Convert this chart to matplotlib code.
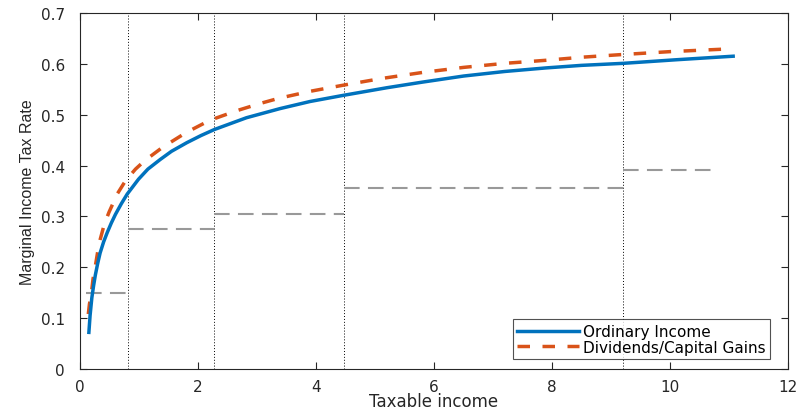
import matplotlib
matplotlib.use("Agg")
import matplotlib.pyplot as plt

# values
ordinary_x = [0.15, 0.17, 0.20, 0.23, 0.26, 0.30, 0.34, 0.40, 0.46, 0.53, 0.60, 0.70, 0.80,
              0.99, 1.15, 1.36, 1.55, 1.81, 2.05, 2.28, 2.82, 3.39, 3.90, 4.46, 5.20, 5.80,
              6.50, 7.20, 7.90, 8.50, 9.21, 10.10, 11.07]
ordinary_y = [0.072, 0.105, 0.140, 0.164, 0.185, 0.208, 0.228, 0.250, 0.268, 0.287, 0.304, 0.325, 0.344,
              0.373, 0.393, 0.412, 0.428, 0.445, 0.459, 0.471, 0.494, 0.512, 0.526, 0.538, 0.553, 0.564,
              0.576, 0.585, 0.592, 0.597, 0.601, 0.608, 0.615]

divcap_x = [0.14, 0.16, 0.19, 0.22, 0.26, 0.30, 0.34, 0.41, 0.49, 0.63, 0.77, 0.94, 1.10,
            1.40, 1.80, 2.20, 2.66, 3.05, 3.36, 3.90, 4.46, 5.10, 5.80, 6.50, 7.20, 7.90,
            8.50, 9.15, 10.00, 10.93]
divcap_y = [0.108, 0.128, 0.147, 0.177, 0.203, 0.231, 0.254, 0.284, 0.308, 0.344, 0.370, 0.393, 0.410,
            0.436, 0.465, 0.489, 0.508, 0.522, 0.532, 0.546, 0.558, 0.571, 0.583, 0.593, 0.601, 0.607,
            0.613, 0.618, 0.624, 0.629]

# statutory brackets
bracket_edges = [0.10, 0.81, 2.27, 4.47, 9.21, 10.73]
bracket_rates = [0.15, 0.275, 0.305, 0.355, 0.391]

xticks = [0, 2, 4, 6, 8, 10, 12]
yticks = [0, 0.1, 0.2, 0.3, 0.4, 0.5, 0.6, 0.7]
yticklabels = ['0', '0.1', '0.2', '0.3', '0.4', '0.5', '0.6', '0.7']

plt.rcParams['font.family'] = ['DejaVu Sans']
axcol = '#262626'

fig = plt.figure(figsize=(7.98, 4.10), dpi=100)
ax = fig.add_axes([0.1003, 0.0976, 0.8872, 0.8683])

for xe in bracket_edges[1:-1]:
    ax.axvline(xe, color='black', lw=0.7, ls=(0, (1, 2)), zorder=1)

for i, r in enumerate(bracket_rates):
    ax.plot([bracket_edges[i], bracket_edges[i + 1]], [r, r], color='#999999',
            lw=1.5, dashes=(7.5, 4), zorder=2)

ax.plot(ordinary_x, ordinary_y, color='#0072BD', lw=2.5, label='Ordinary Income', zorder=4)
ax.plot(divcap_x, divcap_y, color='#D95319', lw=2.5, dashes=(3.6, 3.6),
        label='Dividends/Capital Gains', zorder=3)

ax.set_xlim(0, 12)
ax.set_ylim(0, 0.7)
ax.set_xticks(xticks)
ax.set_yticks(yticks)
ax.set_yticklabels(yticklabels)
ax.tick_params(direction='in', top=True, right=True, length=5, width=0.8,
               colors=axcol, labelsize=11)
ax.tick_params(axis='y', pad=11)
ax.tick_params(axis='x', pad=7)
for s in ax.spines.values():
    s.set_color(axcol)
    s.set_linewidth(0.8)

ax.set_xlabel('Taxable income', fontsize=12, color=axcol, labelpad=-1)
ax.set_ylabel('Marginal Income Tax Rate', fontsize=11.5, color=axcol, labelpad=4,
              family='Liberation Sans')

leg = ax.legend(loc='lower right', bbox_to_anchor=(0.975, 0.027), fontsize=11,
                handlelength=4.0, frameon=True, fancybox=False, borderpad=0.3,
                labelspacing=0.05, handletextpad=0.3, borderaxespad=0)
leg.get_frame().set_edgecolor(axcol)
leg.get_frame().set_linewidth(0.8)

fig.savefig('out.png', dpi=100)
